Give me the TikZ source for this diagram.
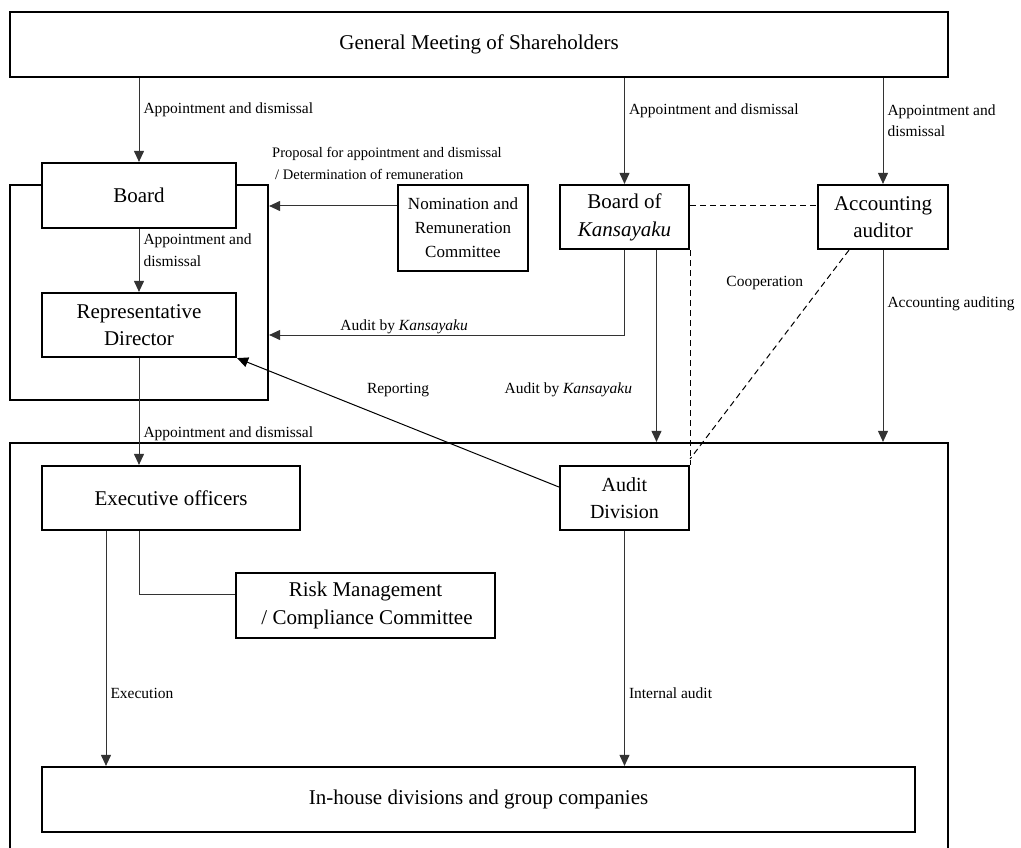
\documentclass[tikz,border=0pt]{standalone}
\usepackage{fontspec}
\setmainfont{Liberation Serif}
\usetikzlibrary{arrows.meta}

\begin{document}
\begin{tikzpicture}[x=1pt,y=-1pt]
	\tikzstyle{unit} = [
		draw, line width = 2.2pt, fill = white,
		inner sep = 0pt, align = center,
		font = \fontsize{21}{27}\selectfont
	]
	\tikzstyle{area} = [draw, line width = 2.2pt, inner sep = 0pt]
	\tikzstyle{link} = [draw = black!80, line width = 1pt, >={Triangle[length=11pt,width=10pt]}]
	\tikzstyle{coop} = [draw, line width = 1pt, dash pattern = on 6pt off 4pt]
	\tikzstyle{note} = [inner sep = 0pt, align = left, font = \fontsize{15.5}{21}\selectfont]

	\useasboundingbox (0,0) rectangle (1021,848);

	% frames
	\node[area, minimum width = 258pt, minimum height = 215pt] (boardarea) at (139,292.5) {};
	\node[area, minimum width = 938pt, minimum height = 440pt] (execarea) at (479,663) {};

	% units
	\node[unit, minimum width = 938pt, minimum height = 65pt] (gms) at (479,44.5) {General Meeting of Shareholders};
	\node[unit, minimum width = 194pt, minimum height = 65pt] (board) at (139,195.5) {Board};
	\node[unit, minimum width = 194pt, minimum height = 64pt] (repdir) at (139,325) {Representative\\Director};
	\node[unit, minimum width = 130pt, minimum height = 86pt, font = \fontsize{17}{24}\selectfont] (nrc) at (463,228) {Nomination and\\Remuneration\\Committee};
	\node[unit, minimum width = 129pt, minimum height = 64pt, font = \fontsize{21}{28}\selectfont] (bok) at (624.5,217) {Board of\\\textit{Kansayaku}};
	\node[unit, minimum width = 130pt, minimum height = 64pt] (accaud) at (883,217) {Accounting\\auditor};
	\node[unit, minimum width = 258pt, minimum height = 64pt] (exec) at (171,498) {Executive officers};
	\node[unit, minimum width = 129pt, minimum height = 64pt, font = \fontsize{20}{27}\selectfont] (auddiv) at (624.5,498) {Audit\\Division};
	\node[unit, minimum width = 259pt, minimum height = 65pt, font = \fontsize{21}{28}\selectfont] (risk) at (365.5,605.5) {Risk Management\\\hspace{3pt}/ Compliance Committee};
	\node[unit, minimum width = 873pt, minimum height = 65pt] (inhouse) at (478.5,799.5) {In-house divisions and group companies};

	% appointments
	\draw[link, ->] (board.north |- gms.south) -- (board.north)
		node[note, pos = 0.38, anchor = west, xshift = 4pt] {Appointment and dismissal};
	\draw[link, ->] (bok.north |- gms.south) -- (bok.north)
		node[note, pos = 0.31, anchor = west, xshift = 4pt] {Appointment and dismissal};
	\draw[link, ->] (accaud.north |- gms.south) -- (accaud.north)
		node[note, pos = 0.40, anchor = west, xshift = 4pt] {Appointment and\\dismissal};
	\draw[link, ->] (board.south) -- (repdir.north)
		node[note, pos = 0.34, anchor = west, xshift = 4pt, font = \fontsize{15.5}{22}\selectfont] {Appointment and\\dismissal};
	\draw[link, ->] (repdir.south) -- (repdir.south |- exec.north)
		node[note, pos = 0.71, anchor = west, xshift = 4pt] {Appointment and dismissal};

	% proposal
	\coordinate (nrcout) at ([yshift = 22pt]nrc.west);
	\draw[link, ->] (nrcout) -- (nrcout -| boardarea.east);
	\node[note, anchor = west, font = \fontsize{14.5}{22}\selectfont] (proposal) at (272,163) {Proposal for appointment and dismissal\\\hspace{3pt}/ Determination of remuneration};

	% audits
	\draw[link, ->] (bok.south) |- (boardarea.east |- 0,335)
		node[note, pos = 0.81, anchor = south, yshift = 1pt] {Audit by \textit{Kansayaku}};
	\draw[link, ->] ([xshift = 32pt]bok.south) -- ([xshift = 32pt]bok.south |- execarea.north)
		node[note, pos = 0.73, anchor = east, xshift = -24pt] {Audit by \textit{Kansayaku}};
	\draw[link, ->] (accaud.south) -- (accaud.south |- execarea.north)
		node[note, pos = 0.28, anchor = west, xshift = 4pt] {Accounting auditing};
	\draw[link, ->, draw = black] ([yshift = 11pt]auddiv.west) -- (repdir.south east)
		node[note, pos = 0.5, yshift = 33pt] {Reporting};

	% cooperation
	\draw[coop] ([yshift = 11pt]bok.east) -- ([yshift = 11pt]accaud.west);
	\draw[coop] (bok.south east) -- (auddiv.north east);
	\draw[coop] ([xshift = -34pt]accaud.south) -- ([yshift = 6pt]auddiv.north east)
		node[note, pos = 0.16, anchor = east, xshift = -20pt] {Cooperation};

	% execution
	\draw[link] (repdir.south |- exec.south) |- ([yshift = 11pt]risk.west);
	\draw[link, ->] ([xshift = -65pt]exec.south) -- ([xshift = -65pt]exec.south |- inhouse.north)
		node[note, pos = 0.69, anchor = west, xshift = 4pt] {Execution};
	\draw[link, ->] (auddiv.south) -- (auddiv.south |- inhouse.north)
		node[note, pos = 0.69, anchor = west, xshift = 4pt] {Internal audit};
\end{tikzpicture}
\end{document}
